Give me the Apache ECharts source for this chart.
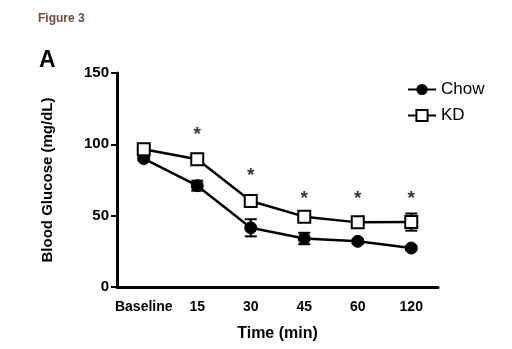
<!DOCTYPE html>
<html><head><meta charset="utf-8">
<script src="https://cdn.jsdelivr.net/npm/echarts@6/dist/echarts.min.js"></script>
<style>html,body{margin:0;padding:0;background:#fff;}#c{width:512px;height:349px;}</style>
</head><body><div id="c"></div>
<script>
const categories = ['Baseline', '15', '30', '45', '60', '120'];
const chowMean = [90, 71, 41.5, 34, 32, 27.3];
const chowErr  = [1.5, 3.5, 6, 4, 1.5, 1.5];
const kdMean   = [96.5, 89.5, 60.3, 49.3, 45.3, 45.5];
const kdErr    = [1.5, 2, 3, 1.5, 2, 6];
const sigIndex = [1, 2, 3, 4, 5];
const sigY     = [107, 78, 62, 62, 62];
const yTicks   = [0, 50, 100, 150];

const font = 'Liberation Sans, Arial, sans-serif';
function errData(m, e){ return m.map((v,i)=>[i, v-e[i], v+e[i]]); }
function errSeries(m, e){
  return {
    type:'custom', silent:true, z:3,
    data: errData(m,e),
    renderItem: function(params, api){
      const a = api.coord([api.value(0), api.value(1)]);
      const b = api.coord([api.value(0), api.value(2)]);
      const cw = 6;
      const st = {stroke:'#000', lineWidth:2};
      return {type:'group', children:[
        {type:'line', shape:{x1:a[0], y1:a[1], x2:b[0], y2:b[1]}, style:st},
        {type:'line', shape:{x1:a[0]-cw, y1:a[1], x2:a[0]+cw, y2:a[1]}, style:st},
        {type:'line', shape:{x1:b[0]-cw, y1:b[1], x2:b[0]+cw, y2:b[1]}, style:st}
      ]};
    }
  };
}
const chart = echarts.init(document.getElementById('c'));
chart.setOption({
  animation:false,
  backgroundColor:'#fff',
  graphic:[
    {type:'text', left:38, top:13, style:{text:'Figure 3', font:'bold 12px '+font, fill:'#6b4a3a'}},
    {type:'text', left:39, top:49, style:{text:'A', font:'bold 23px '+font, fill:'#000'}}
  ],
  legend:{
    data:['Chow','KD'], orient:'vertical', left:402, top:76, itemGap:9,
    itemWidth:28, itemHeight:14,
    textStyle:{fontFamily:font, fontSize:17, color:'#000'}
  },
  grid:{left:117, top:73, width:321, height:214, containLabel:false},
  xAxis:{
    type:'category', data:categories, boundaryGap:true,
    name:'Time (min)', nameLocation:'middle', nameGap:39,
    nameTextStyle:{fontFamily:font, fontSize:16, fontWeight:'bold', color:'#000'},
    axisLine:{lineStyle:{color:'#000', width:3}},
    axisTick:{alignWithLabel:true, interval:0, length:6, lineStyle:{width:2, color:'#000'}},
    axisLabel:{interval:0, fontFamily:font, fontSize:14, fontWeight:'bold', color:'#000', margin:13}
  },
  yAxis:{
    type:'value', min:0, max:150, interval:50,
    name:'Blood Glucose (mg/dL)', nameLocation:'middle', nameGap:62,
    nameTextStyle:{fontFamily:font, fontSize:15, fontWeight:'bold', color:'#000'},
    axisLine:{show:true, lineStyle:{color:'#000', width:3}},
    axisTick:{show:true, length:6, lineStyle:{width:2, color:'#000'}},
    splitLine:{show:false},
    axisLabel:{fontFamily:font, fontSize:15, fontWeight:'bold', color:'#000', margin:8,
      formatter:v=>yTicks.includes(v)?String(v):''}
  },
  series:[
    errSeries(chowMean, chowErr),
    errSeries(kdMean, kdErr),
    {name:'Chow', type:'line', data:chowMean, symbol:'circle', symbolSize:12, z:4,
     lineStyle:{color:'#000', width:2.5}, itemStyle:{color:'#000', borderColor:'#000'}},
    {name:'KD', type:'line', data:kdMean, symbol:'rect', symbolSize:12, z:5,
     lineStyle:{color:'#000', width:2.5}, itemStyle:{color:'#fff', borderColor:'#000', borderWidth:2}},
    {type:'scatter', data:sigIndex.map((x,i)=>[x, sigY[i]]), symbolSize:0, silent:true,
     label:{show:true, position:'inside', formatter:'*', fontFamily:font, fontSize:19, fontWeight:'bold', color:'#000'}}
  ]
});
</script></body></html>
